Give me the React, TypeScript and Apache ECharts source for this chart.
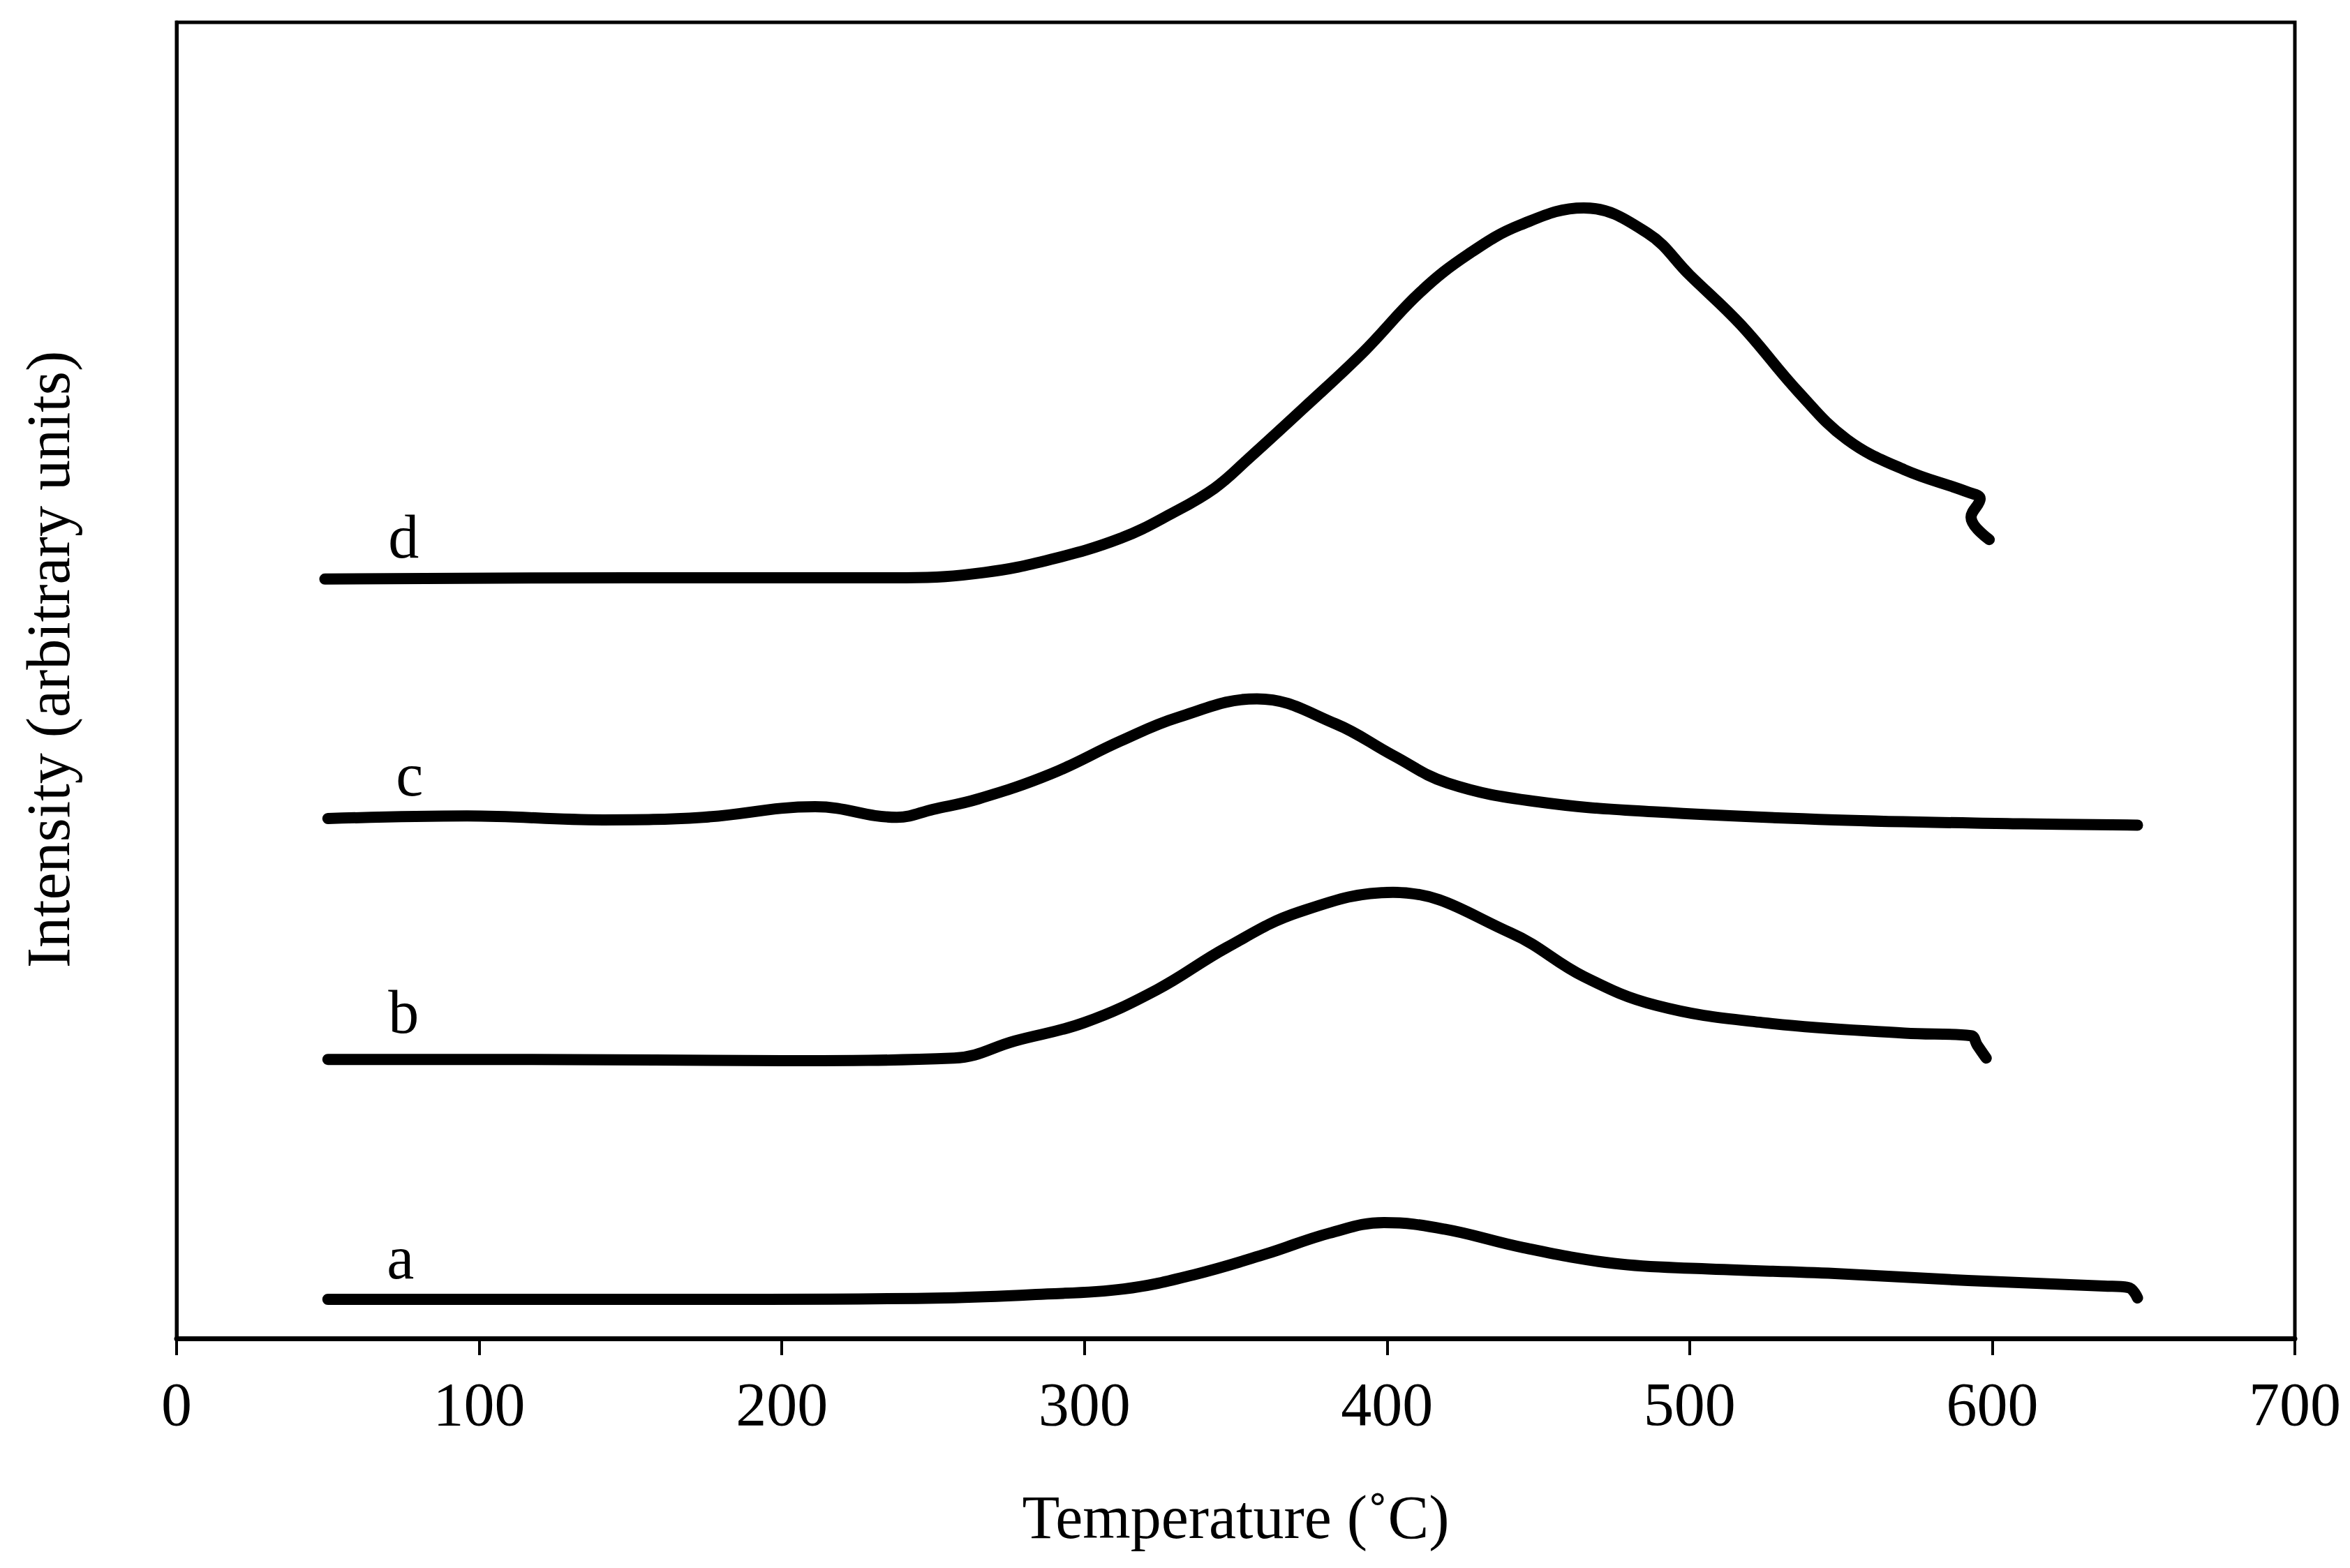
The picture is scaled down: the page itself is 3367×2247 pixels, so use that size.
import React, { useEffect, useRef } from 'react';
import * as echarts from 'echarts';

// Temperature (°C) and intensity (arbitrary units)
const tempA = [50, 150, 195, 254, 284, 313, 336, 360, 381, 399, 419, 445, 475, 504, 548, 592, 637, 645, 648];
const intensityA = [2.97, 2.97, 2.97, 3.08, 3.34, 3.76, 4.83, 6.42, 8.0, 8.8, 8.3, 6.9, 5.7, 5.3, 4.93, 4.4, 3.98, 3.87, 3.08];

const tempB = [50, 116, 200, 257, 277, 300, 324, 347, 371, 402, 441, 465, 489, 524, 571, 593, 595, 598];
const intensityB = [21.2, 21.2, 21.1, 21.3, 22.6, 24.0, 26.5, 29.7, 32.4, 33.9, 30.8, 27.5, 25.3, 24.0, 23.2, 23.0, 22.3, 21.3];

const tempC = [50, 96, 141, 174, 211, 238, 250, 265, 289, 312, 331, 357, 383, 402, 420, 449, 489, 548, 610, 648];
const intensityC = [39.5, 39.7, 39.4, 39.6, 40.4, 39.6, 40.2, 41.0, 42.9, 45.4, 47.2, 48.6, 46.7, 44.3, 42.2, 40.8, 40.0, 39.4, 39.1, 39.0];

const tempD = [49, 150, 241, 267, 289, 312, 329, 343, 354, 373, 392, 411, 427, 444, 465, 486, 500, 517, 536, 552, 571, 592, 596, 593, 599];
const intensityD = [57.7, 57.8, 57.8, 58.2, 59.2, 60.8, 62.7, 64.6, 66.8, 70.8, 74.9, 79.5, 82.4, 84.6, 85.9, 84.0, 80.8, 77.0, 71.9, 68.3, 66.0, 64.3, 63.8, 62.4, 60.7];

const curveNames = ['a', 'b', 'c', 'd'];
const labelTemps = [74, 75, 77, 75];
const labelIntensity = [6.1, 24.8, 42.8, 60.9];

const xTicks = [0, 100, 200, 300, 400, 500, 600, 700];

const FONT = '"Liberation Serif", "Times New Roman", serif';

const pairs = (xs: number[], ys: number[]) => xs.map((x, i) => [x, ys[i]]);

const App: React.FC = () => {
  const chartRef = useRef<HTMLDivElement>(null);

  useEffect(() => {
    document.body.style.margin = '0';
    if (!chartRef.current) return;
    const chart = echarts.init(chartRef.current, null, { renderer: 'svg' });

    const curves = [
      pairs(tempA, intensityA),
      pairs(tempB, intensityB),
      pairs(tempC, intensityC),
      pairs(tempD, intensityD),
    ];

    const option: echarts.EChartsOption = {
      animation: false,
      backgroundColor: '#ffffff',
      grid: {
        left: 253,
        right: 79,
        top: 32,
        bottom: 329,
        containLabel: false,
        show: true,
        borderColor: '#000',
        borderWidth: 5,
      },
      xAxis: {
        type: 'value',
        min: xTicks[0],
        max: xTicks[xTicks.length - 1],
        interval: 100,
        name: 'Temperature (˚C)',
        nameLocation: 'middle',
        nameGap: 212,
        nameTextStyle: { fontFamily: FONT, fontSize: 88, color: '#000' },
        axisLine: { show: true, lineStyle: { color: '#000', width: 7 } },
        axisTick: { show: true, inside: false, length: 24, lineStyle: { color: '#000', width: 4 } },
        axisLabel: { margin: 50, fontFamily: FONT, fontSize: 88, color: '#000' },
        splitLine: { show: false },
      },
      yAxis: {
        type: 'value',
        min: 0,
        max: 100,
        name: 'Intensity (arbitrary units)',
        nameLocation: 'middle',
        nameGap: 140,
        nameTextStyle: { fontFamily: FONT, fontSize: 88, color: '#000', padding: [0, 0, 0, 60] },
        axisLine: { show: true, lineStyle: { color: '#000', width: 5 } },
        axisTick: { show: false },
        axisLabel: { show: false },
        splitLine: { show: false },
      },
      series: [
        ...curves.map((data, i) => ({
          name: curveNames[i],
          type: 'line' as const,
          data,
          smooth: 0.4,
          symbol: 'none',
          lineStyle: { color: '#000', width: 16, cap: 'round' as const, join: 'round' as const },
          z: 3,
        })),
        {
          type: 'scatter',
          symbol: 'rect',
          symbolSize: 0,
          itemStyle: { color: '#000' },
          silent: true,
          data: curveNames.map((n, i) => ({ name: n, value: [labelTemps[i], labelIntensity[i]] })),
          label: {
            show: true,
            position: 'inside',
            formatter: '{b}',
            fontFamily: FONT,
            fontSize: 88,
            color: '#000',
            opacity: 1,
            textBorderWidth: 0,
          },
          z: 4,
        },
      ],
    };

    chart.setOption(option, true);

    return () => {
      chart.dispose();
    };
  }, []);

  return <div ref={chartRef} style={{ width: '3367px', height: '2247px' }} />;
};

export default App;
